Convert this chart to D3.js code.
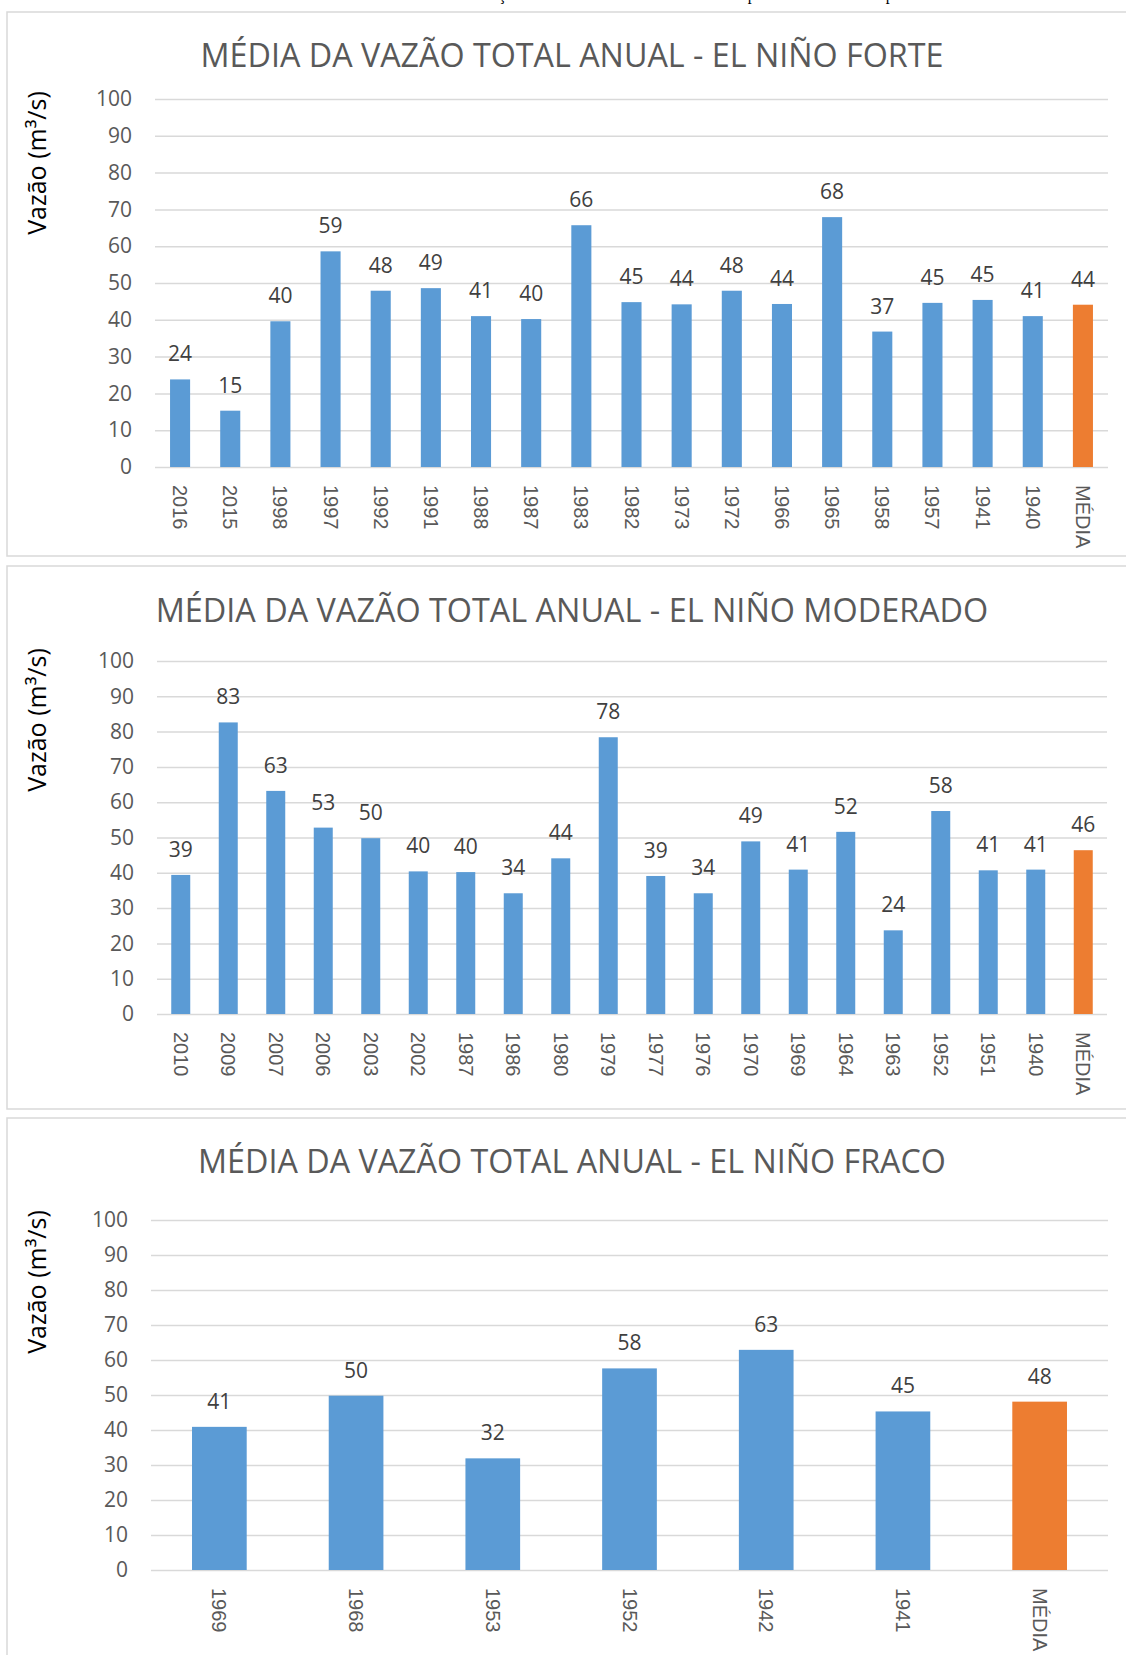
<!DOCTYPE html>
<html>
<head>
<meta charset="utf-8">
<title>Média da vazão total anual - El Niño</title>
<style>
  body { margin: 0; background: #fff; }
  svg { display: block; }
  .title { font-family: "Open Sans", sans-serif; fill: #595959; }
  .tick text { font-family: "Open Sans", sans-serif; font-size: 21px; fill: #595959; }
  .tick line { stroke: #d9d9d9; stroke-width: 1.5px; }
  .val { font-family: "Open Sans", sans-serif; font-size: 21px; fill: #404040; text-anchor: middle; }
  .xlab { font-family: "Liberation Sans", sans-serif; font-size: 20px; fill: #595959; }
  .ylab { font-family: "Open Sans", sans-serif; font-size: 25px; fill: #000; }
  .caption { font-family: "Liberation Serif", serif; font-size: 19px; fill: #000; }
</style>
<script src="https://cdn.jsdelivr.net/npm/d3@7/dist/d3.min.js"></script>
</head>
<body>
<svg id="chart" width="1126" height="1655"></svg>
<script>
// ---- data ----
const forteYears  = ["2016","2015","1998","1997","1992","1991","1988","1987","1983","1982","1973","1972","1966","1965","1958","1957","1941","1940","MÉDIA"];
const forteValues = [23.8, 15.3, 39.6, 58.6, 47.9, 48.6, 41.0, 40.2, 65.7, 44.8, 44.2, 47.9, 44.3, 67.9, 36.8, 44.6, 45.4, 41.0, 44.1];

const moderadoYears  = ["2010","2009","2007","2006","2003","2002","1987","1986","1980","1979","1977","1976","1970","1969","1964","1963","1952","1951","1940","MÉDIA"];
const moderadoValues = [39.4, 82.6, 63.2, 52.8, 49.8, 40.4, 40.2, 34.2, 44.1, 78.4, 39.1, 34.2, 48.9, 40.9, 51.6, 23.7, 57.5, 40.7, 40.9, 46.4];

const fracoYears  = ["1969","1968","1953","1952","1942","1941","MÉDIA"];
const fracoValues = [40.9, 49.8, 31.9, 57.6, 62.9, 45.3, 48.1];

const yTicks = [0, 10, 20, 30, 40, 50, 60, 70, 80, 90, 100];
const yLabel = "Vazão (m³/s)";
const caption = "Tabela 4 – Média da vazão total anual das estações fluviométricas da Bacia do Rio Itapemirim no Sul do Espírito Santo";

const blue = "#5b9bd5", orange = "#ed7d31";

// panel layouts (pixels)
const panels = [
  { title: "MÉDIA DA VAZÃO TOTAL ANUAL - EL NIÑO FORTE", years: forteYears, values: forteValues,
    box: [12, 556], titleY: 67, titleW: 743, top: 99, bottom: 467, left: 155, right: 1108, ylabY: 163 },
  { title: "MÉDIA DA VAZÃO TOTAL ANUAL - EL NIÑO MODERADO", years: moderadoYears, values: moderadoValues,
    box: [566, 1109], titleY: 622, titleW: 833, top: 661, bottom: 1014, left: 157, right: 1107, ylabY: 720 },
  { title: "MÉDIA DA VAZÃO TOTAL ANUAL - EL NIÑO FRACO", years: fracoYears, values: fracoValues,
    box: [1118, 1700], titleY: 1173, titleW: 748, top: 1220, bottom: 1570, left: 151, right: 1108, ylabY: 1282 }
];

const svg = d3.select("#chart");

// caption line of the page above, cut off at the top edge
svg.append("text").attr("class", "caption")
  .attr("x", 205).attr("y", 0)
  .attr("textLength", 755).attr("lengthAdjust", "spacingAndGlyphs")
  .text(caption);

panels.forEach(p => {
  const g = svg.append("g");

  g.append("rect")
    .attr("x", 7).attr("y", p.box[0])
    .attr("width", 1140).attr("height", p.box[1] - p.box[0])
    .attr("fill", "none").attr("stroke", "#d9d9d9").attr("stroke-width", 1.5);

  // title, sized to fit its width in the picture
  const t = g.append("text").attr("class", "title")
    .attr("x", 572).attr("y", p.titleY)
    .attr("text-anchor", "middle")
    .style("font-size", "32px")
    .text(p.title);
  const w = t.node().getComputedTextLength();
  t.style("font-size", (32 * p.titleW / w).toFixed(2) + "px");

  const x = d3.scaleBand()
    .domain(p.years)
    .range([p.left, p.right])
    .paddingInner(0.6)
    .paddingOuter(0.3);

  const y = d3.scaleLinear()
    .domain([0, 100])
    .range([p.bottom, p.top]);

  // gridlines + tick labels
  g.append("g")
    .attr("transform", `translate(${p.left},0)`)
    .call(d3.axisLeft(y).tickValues(yTicks).tickSize(-(p.right - p.left)).tickPadding(23))
    .call(a => a.select(".domain").remove());

  // bars
  g.selectAll("rect.bar")
    .data(p.years.map((k, i) => ({ k, v: p.values[i] })))
    .enter().append("rect")
    .attr("class", "bar")
    .attr("x", d => x(d.k))
    .attr("width", x.bandwidth())
    .attr("y", d => y(d.v))
    .attr("height", d => y(0) - y(d.v))
    .attr("fill", d => d.k === "MÉDIA" ? orange : blue);

  // value labels
  g.selectAll("text.val")
    .data(p.years.map((k, i) => ({ k, v: p.values[i] })))
    .enter().append("text")
    .attr("class", "val")
    .attr("x", d => x(d.k) + x.bandwidth() / 2)
    .attr("y", d => y(d.v) - 18)
    .text(d => d3.format(".0f")(d.v));

  // category labels, rotated
  g.selectAll("text.xlab")
    .data(p.years)
    .enter().append("text")
    .attr("class", "xlab")
    .attr("transform", d => `translate(${x(d) + x.bandwidth() / 2},${p.bottom + 18}) rotate(90)`)
    .attr("dominant-baseline", "central")
    .text(d => d);

  // y axis title
  g.append("text").attr("class", "ylab")
    .attr("transform", `translate(46,${p.ylabY}) rotate(-90)`)
    .attr("text-anchor", "middle")
    .text(yLabel);
});
</script>
</body>
</html>
